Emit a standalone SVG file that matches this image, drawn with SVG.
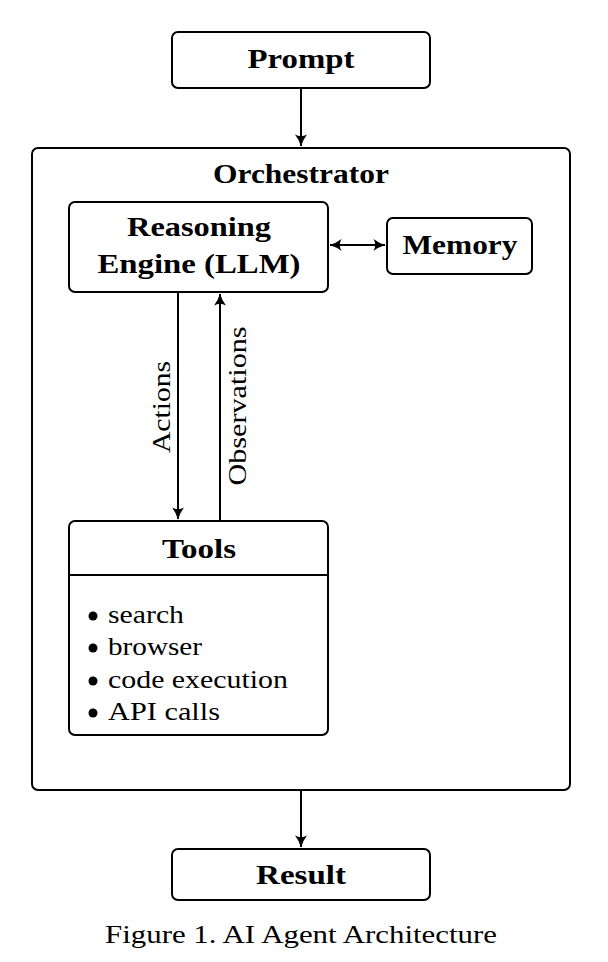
<svg xmlns="http://www.w3.org/2000/svg" width="608" height="962" viewBox="0 0 608 962">
<style>
.box{fill:#fff;stroke:#000;stroke-width:2}
.t{font-family:"Liberation Serif","DejaVu Serif",serif;font-size:26px;fill:#000}
.b{font-weight:bold;font-size:27px;text-anchor:middle}
.c{text-anchor:middle}
.ln{stroke:#000;stroke-width:2;fill:none}
</style>
<defs>
<marker id="ah" viewBox="0 0 14 14" refX="12.5" refY="7" markerWidth="14" markerHeight="14" markerUnits="userSpaceOnUse" orient="auto-start-reverse">
<path d="M1,1 Q6,5 13,7 Q6,9 1,13 Q4.5,7 1,1Z" fill="#000"/>
</marker>
</defs>
<rect width="608" height="962" fill="#fff"/>
<g id="orchestrator">
<rect class="box" x="32" y="148" width="538" height="642" rx="6"/>
<text class="t b" x="301" y="183" textLength="176" lengthAdjust="spacingAndGlyphs">Orchestrator</text>
</g>
<g id="prompt">
<rect class="box" x="172" y="32" width="258" height="56" rx="6"/>
<text class="t b" x="301" y="68" textLength="107" lengthAdjust="spacingAndGlyphs">Prompt</text>
</g>
<g id="reasoning">
<rect class="box" x="69" y="202" width="259" height="90" rx="6"/>
<text class="t b" x="199" y="236" textLength="144" lengthAdjust="spacingAndGlyphs">Reasoning</text>
<text class="t b" x="199" y="273" textLength="203" lengthAdjust="spacingAndGlyphs">Engine (LLM)</text>
</g>
<g id="memory">
<rect class="box" x="387" y="218" width="145" height="56" rx="6"/>
<text class="t b" x="460" y="254" textLength="115" lengthAdjust="spacingAndGlyphs">Memory</text>
</g>
<g id="tools">
<rect class="box" x="69" y="521" width="259" height="214" rx="6"/>
<line class="ln" x1="69" y1="575" x2="328" y2="575"/>
<text class="t b" x="199" y="558" textLength="74" lengthAdjust="spacingAndGlyphs">Tools</text>
<circle cx="93" cy="616" r="4.5"/>
<circle cx="93" cy="648" r="4.5"/>
<circle cx="93" cy="681" r="4.5"/>
<circle cx="93" cy="713" r="4.5"/>
<text class="t" x="108" y="623" textLength="76" lengthAdjust="spacingAndGlyphs">search</text>
<text class="t" x="108" y="655" textLength="94" lengthAdjust="spacingAndGlyphs">browser</text>
<text class="t" x="108" y="688" textLength="180" lengthAdjust="spacingAndGlyphs">code execution</text>
<text class="t" x="108" y="720" textLength="112" lengthAdjust="spacingAndGlyphs">API calls</text>
</g>
<g id="result">
<rect class="box" x="172" y="849" width="258" height="51" rx="6"/>
<text class="t b" x="301" y="884" textLength="90" lengthAdjust="spacingAndGlyphs">Result</text>
</g>
<g id="connectors">
<line class="ln" x1="301" y1="89" x2="301" y2="146" marker-end="url(#ah)"/>
<line class="ln" x1="330" y1="245" x2="385" y2="245" marker-start="url(#ah)" marker-end="url(#ah)"/>
<line class="ln" x1="178" y1="293" x2="178" y2="519" marker-end="url(#ah)"/>
<line class="ln" x1="220" y1="520" x2="220" y2="294" marker-end="url(#ah)"/>
<line class="ln" x1="301" y1="791" x2="301" y2="847" marker-end="url(#ah)"/>
<text class="t c" transform="translate(170,407) rotate(-90)" textLength="92" lengthAdjust="spacingAndGlyphs">Actions</text>
<text class="t c" transform="translate(246,406) rotate(-90)" textLength="159" lengthAdjust="spacingAndGlyphs">Observations</text>
</g>
<text class="t c" x="301" y="943" textLength="392" lengthAdjust="spacingAndGlyphs">Figure 1. AI Agent Architecture</text>
</svg>
